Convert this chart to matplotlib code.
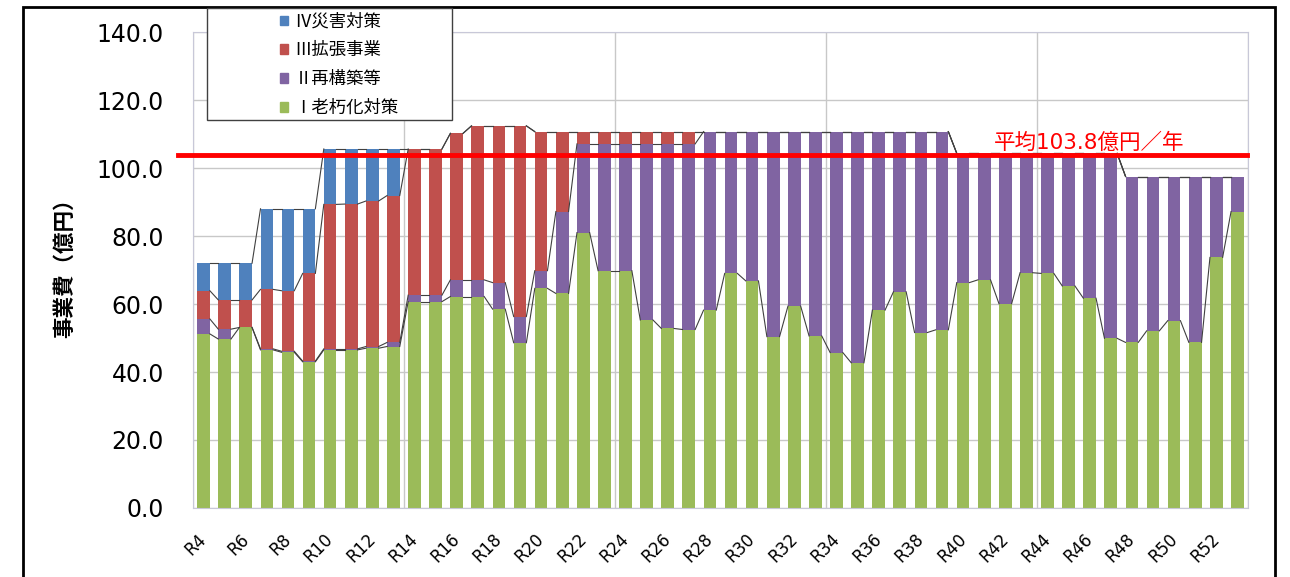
import numpy as np
import matplotlib
matplotlib.use('Agg')
import matplotlib.pyplot as plt
from matplotlib.patches import Rectangle, Patch
from matplotlib.transforms import ScaledTranslation

plt.rcParams['font.family'] = ['DejaVu Sans', 'Noto Sans CJK JP']

# 年度
years = [f'R{n}' for n in range(4, 54)]

# Ⅰ老朽化対策
g = [51.2, 49.7, 53.1, 46.5, 45.8, 43.0, 46.5, 46.5, 47.0, 47.5,
     60.7, 60.7, 62.2, 62.2, 58.5, 48.6, 64.6, 63.1, 81.0, 69.8,
     69.8, 55.3, 52.8, 52.5, 58.2, 69.0, 66.8, 50.4, 59.4, 50.6,
     45.7, 42.7, 58.2, 63.6, 51.6, 52.4, 66.3, 67.1, 60.1, 69.2,
     69.0, 65.3, 61.7, 49.9, 48.7, 52.1, 55.1, 48.7, 73.7, 87.2]
# Ⅱ再構築等
p = [4.4, 2.9, 0.0, 0.3, 0.3, 0.2, 0.3, 0.3, 0.5, 1.2,
     1.9, 1.9, 4.9, 4.9, 7.8, 7.7, 5.2, 24.1, 26.1, 37.3,
     37.3, 51.8, 54.3, 54.6, 52.5, 41.7, 43.9, 60.3, 51.3, 60.1,
     65.0, 68.0, 52.5, 47.1, 59.1, 58.3, 38.0, 37.2, 44.2, 35.1,
     35.3, 39.0, 42.6, 54.4, 48.8, 45.4, 42.4, 48.8, 23.8, 10.3]
# Ⅲ拡張事業
r = [8.3, 8.6, 8.1, 17.5, 17.8, 25.8, 42.5, 42.6, 42.8, 43.2,
     43.0, 43.0, 43.1, 45.3, 46.1, 56.1, 40.9, 23.5, 3.6, 3.6,
     3.6, 3.6, 3.6, 3.6] + [0.0] * 26
# Ⅳ災害対策
b = [8.1, 10.8, 10.8, 23.7, 24.1, 19.0, 16.3, 16.2, 15.3, 13.7] + [0.0] * 40

avg = 103.8

series = [
    ('Ⅰ老朽化対策', g, '#9BBB59'),
    ('Ⅱ再構築等', p, '#8064A2'),
    ('Ⅲ拡張事業', r, '#C0504D'),
    ('Ⅳ災害対策', b, '#4F81BD'),
]

fig = plt.figure(figsize=(12.9, 5.77), dpi=100)
ax = fig.add_axes([0.1496, 0.1196, 0.8178, 0.8249])

x = np.arange(len(years))
w = 0.6
bottom = np.zeros(len(years))
for name, vals, col in series:
    vals = np.array(vals)
    ax.bar(x, vals, w, bottom=bottom, color=col, label=name, zorder=2)
    top = bottom + vals
    # series lines between bars
    for i in range(len(x) - 1):
        ax.plot([x[i] + w / 2, x[i + 1] - w / 2], [top[i], top[i + 1]],
                color='#404040', lw=0.8, zorder=3)
    bottom = top

ax.plot([-1.2, 49.45], [avg, avg], color='#FF0000', lw=3.5, zorder=4, clip_on=False)
ax.text(46.5, avg + 0.6, f'平均{avg}億円／年', color='#FF0000', fontsize=15.5,
        ha='right', va='bottom', zorder=5)

ax.set_xlim(-0.5, len(years) - 0.5)
ax.set_ylim(0, 140)
ax.set_yticks(np.arange(0, 141, 20))
ax.set_yticklabels([f'{v:.1f}' for v in np.arange(0, 141, 20)], fontsize=17)
ax.set_xticks(x[::2])
ax.set_xticklabels(years[::2], rotation=45, ha='right', rotation_mode='anchor', fontsize=12)
ax.set_xticks(np.arange(-0.5, len(years), 10), minor=True)
ax.tick_params(axis='both', which='both', length=0)
ax.tick_params(axis='y', pad=21)
ax.tick_params(axis='x', pad=16)
shift = ScaledTranslation(-6 / 100, 0, fig.dpi_scale_trans)
for lab in ax.get_xticklabels():
    lab.set_transform(lab.get_transform() + shift)
ax.grid(axis='y', color='#c8c8c8', lw=1, zorder=0)
ax.grid(axis='x', which='minor', color='#c8c8c8', lw=1, zorder=0)
for s in ax.spines.values():
    s.set_color('#c8c8d8')

fig.text(0.050, 0.544, '事業費（億円）', rotation=90, fontsize=15.5, fontweight='bold',
         ha='center', va='center', family=['Noto Sans CJK JP'])

# legend
fig.patches.append(Rectangle((207 / 1290, 1 - 120 / 577), 245 / 1290, 112 / 577,
                             transform=fig.transFigure, facecolor='white',
                             edgecolor='#404040', lw=1, zorder=10))
handles = [Patch(color=c, label=n) for n, v, c in series[::-1]]
leg = fig.legend(handles=handles, loc='upper left', bbox_to_anchor=(264 / 1290, 1 + 3 / 577),
                 frameon=False, prop={'family': ['Noto Sans CJK JP'], 'size': 12.5},
                 handlelength=0.5, handleheight=0.5, handletextpad=0.35,
                 labelspacing=0.62)
leg.set_zorder(11)

# outer frame
fig.patches.append(Rectangle((23 / 1290, -0.1), 1252 / 1290, 1.1 - 7 / 577,
                             transform=fig.transFigure, fill=False,
                             edgecolor='black', lw=2))

fig.savefig('out.png', dpi=100)
